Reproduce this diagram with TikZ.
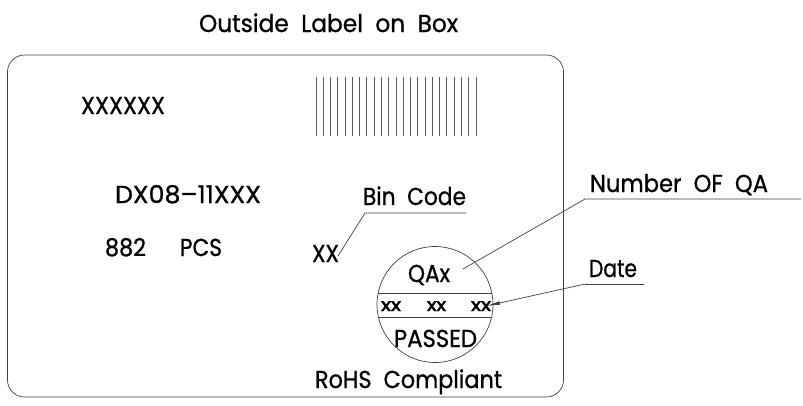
\documentclass[tikz,border=0pt]{standalone}
\usepackage{fontspec}
\usepackage{graphicx}
\setmainfont[RawFeature={embolden=0.9}]{Poppins}
\newfontfamily\smallfont[RawFeature={embolden=2.6}]{Poppins}
\newcommand{\fitw}[2]{\resizebox{#1pt}{\height}{#2}}
\usetikzlibrary{arrows.meta}
\tikzset{
  lbl/.style={anchor=base west,inner sep=0pt,outer sep=0pt,font=\fontsize{24.5}{24.5}\selectfont,text=black},
  small/.style={anchor=base west,inner sep=0pt,outer sep=0pt,font=\smallfont\fontsize{17.5}{17.5}\selectfont,text=black},
  ln/.style={draw=black!75,line width=0.7pt},
  bar/.style={draw=black!65,line width=0.8pt},
  leadtip/.style={ln,-{Latex[length=14pt,width=3.6pt]}}
}
\begin{document}
\begin{tikzpicture}[x=1pt,y=-1pt]
\useasboundingbox (0,0) rectangle (803,405);
\draw[ln,rounded corners=17pt] (7.5,55) rectangle (563.5,397);
\foreach \i in {0,...,22} \draw[bar] ({316+\i*7.27},77) -- ({316+\i*7.27},136);
% stamp
\coordinate (c) at (435,304.5);
\node[circle,draw=black!75,line width=0.7pt,minimum size=116pt,inner sep=0pt] (stamp) at (c) {};
\draw[ln] ({435-sqrt(58*58-11.5*11.5)},293) coordinate (c1l) -- ({435+sqrt(58*58-11.5*11.5)},293) coordinate (c1r);
\draw[ln] ({435-sqrt(58*58-12.5*12.5)},317) coordinate (c2l) -- ({435+sqrt(58*58-12.5*12.5)},317) coordinate (c2r);
% texts
\node[lbl] (title) at (199,32) {\fitw{259}{Outside\ \ Label\ \ on\ \ Box}};
\node[lbl] (code) at (81,114) {\fitw{84}{XXXXXX}};
\node[lbl] (dx) at (115,203) {\fitw{146}{DX08\textendash11XXX}};
\node[lbl] (n882) at (105,256) {\fitw{41}{882}};
\node[lbl] (pcs) at (180,256) {\fitw{42}{PCS}};
\node[lbl] (bin) at (363,205) {\fitw{103}{Bin\ \ Code}};
\node[lbl] (xx) at (312,262) {\fitw{27}{XX}};
\node[lbl] (qax) at (408,282) {\fitw{42}{QAx}};
\node[small] (x1) at (381,311) {\fitw{20}{xx}};
\node[small] (x2) at (427,311) {\fitw{19}{xx}};
\node[small] (x3) at (471,311) {\fitw{20}{xx}};
\node[lbl] (passed) at (394,347) {\fitw{83}{PASSED}};
\node[lbl] (rohs) at (315,388) {\fitw{187}{RoHS\ \ Compliant}};
\node[lbl] (num) at (590,192) {\fitw{178}{Number\ \ OF\ \ QA}};
\node[lbl] (date) at (589,277) {\fitw{48}{Date}};
% leaders
\coordinate (binA) at (365,213);
\coordinate (binB) at (466,213);
\coordinate (binT) at (338,256);
\coordinate (numA) at (585,199);
\coordinate (numB) at (801,199);
\coordinate (numT) at (463,269);
\coordinate (dateA) at (585,284);
\coordinate (dateB) at (644,284);
\coordinate (dateT) at (486,306);
\draw[ln] (binT) -- (binA) -- (binB);
\draw[ln] (numT) -- (numA) -- (numB);
\draw[ln] (dateB) -- (dateA);
\draw[leadtip] (dateA) -- (dateT);
\end{tikzpicture}
\end{document}
